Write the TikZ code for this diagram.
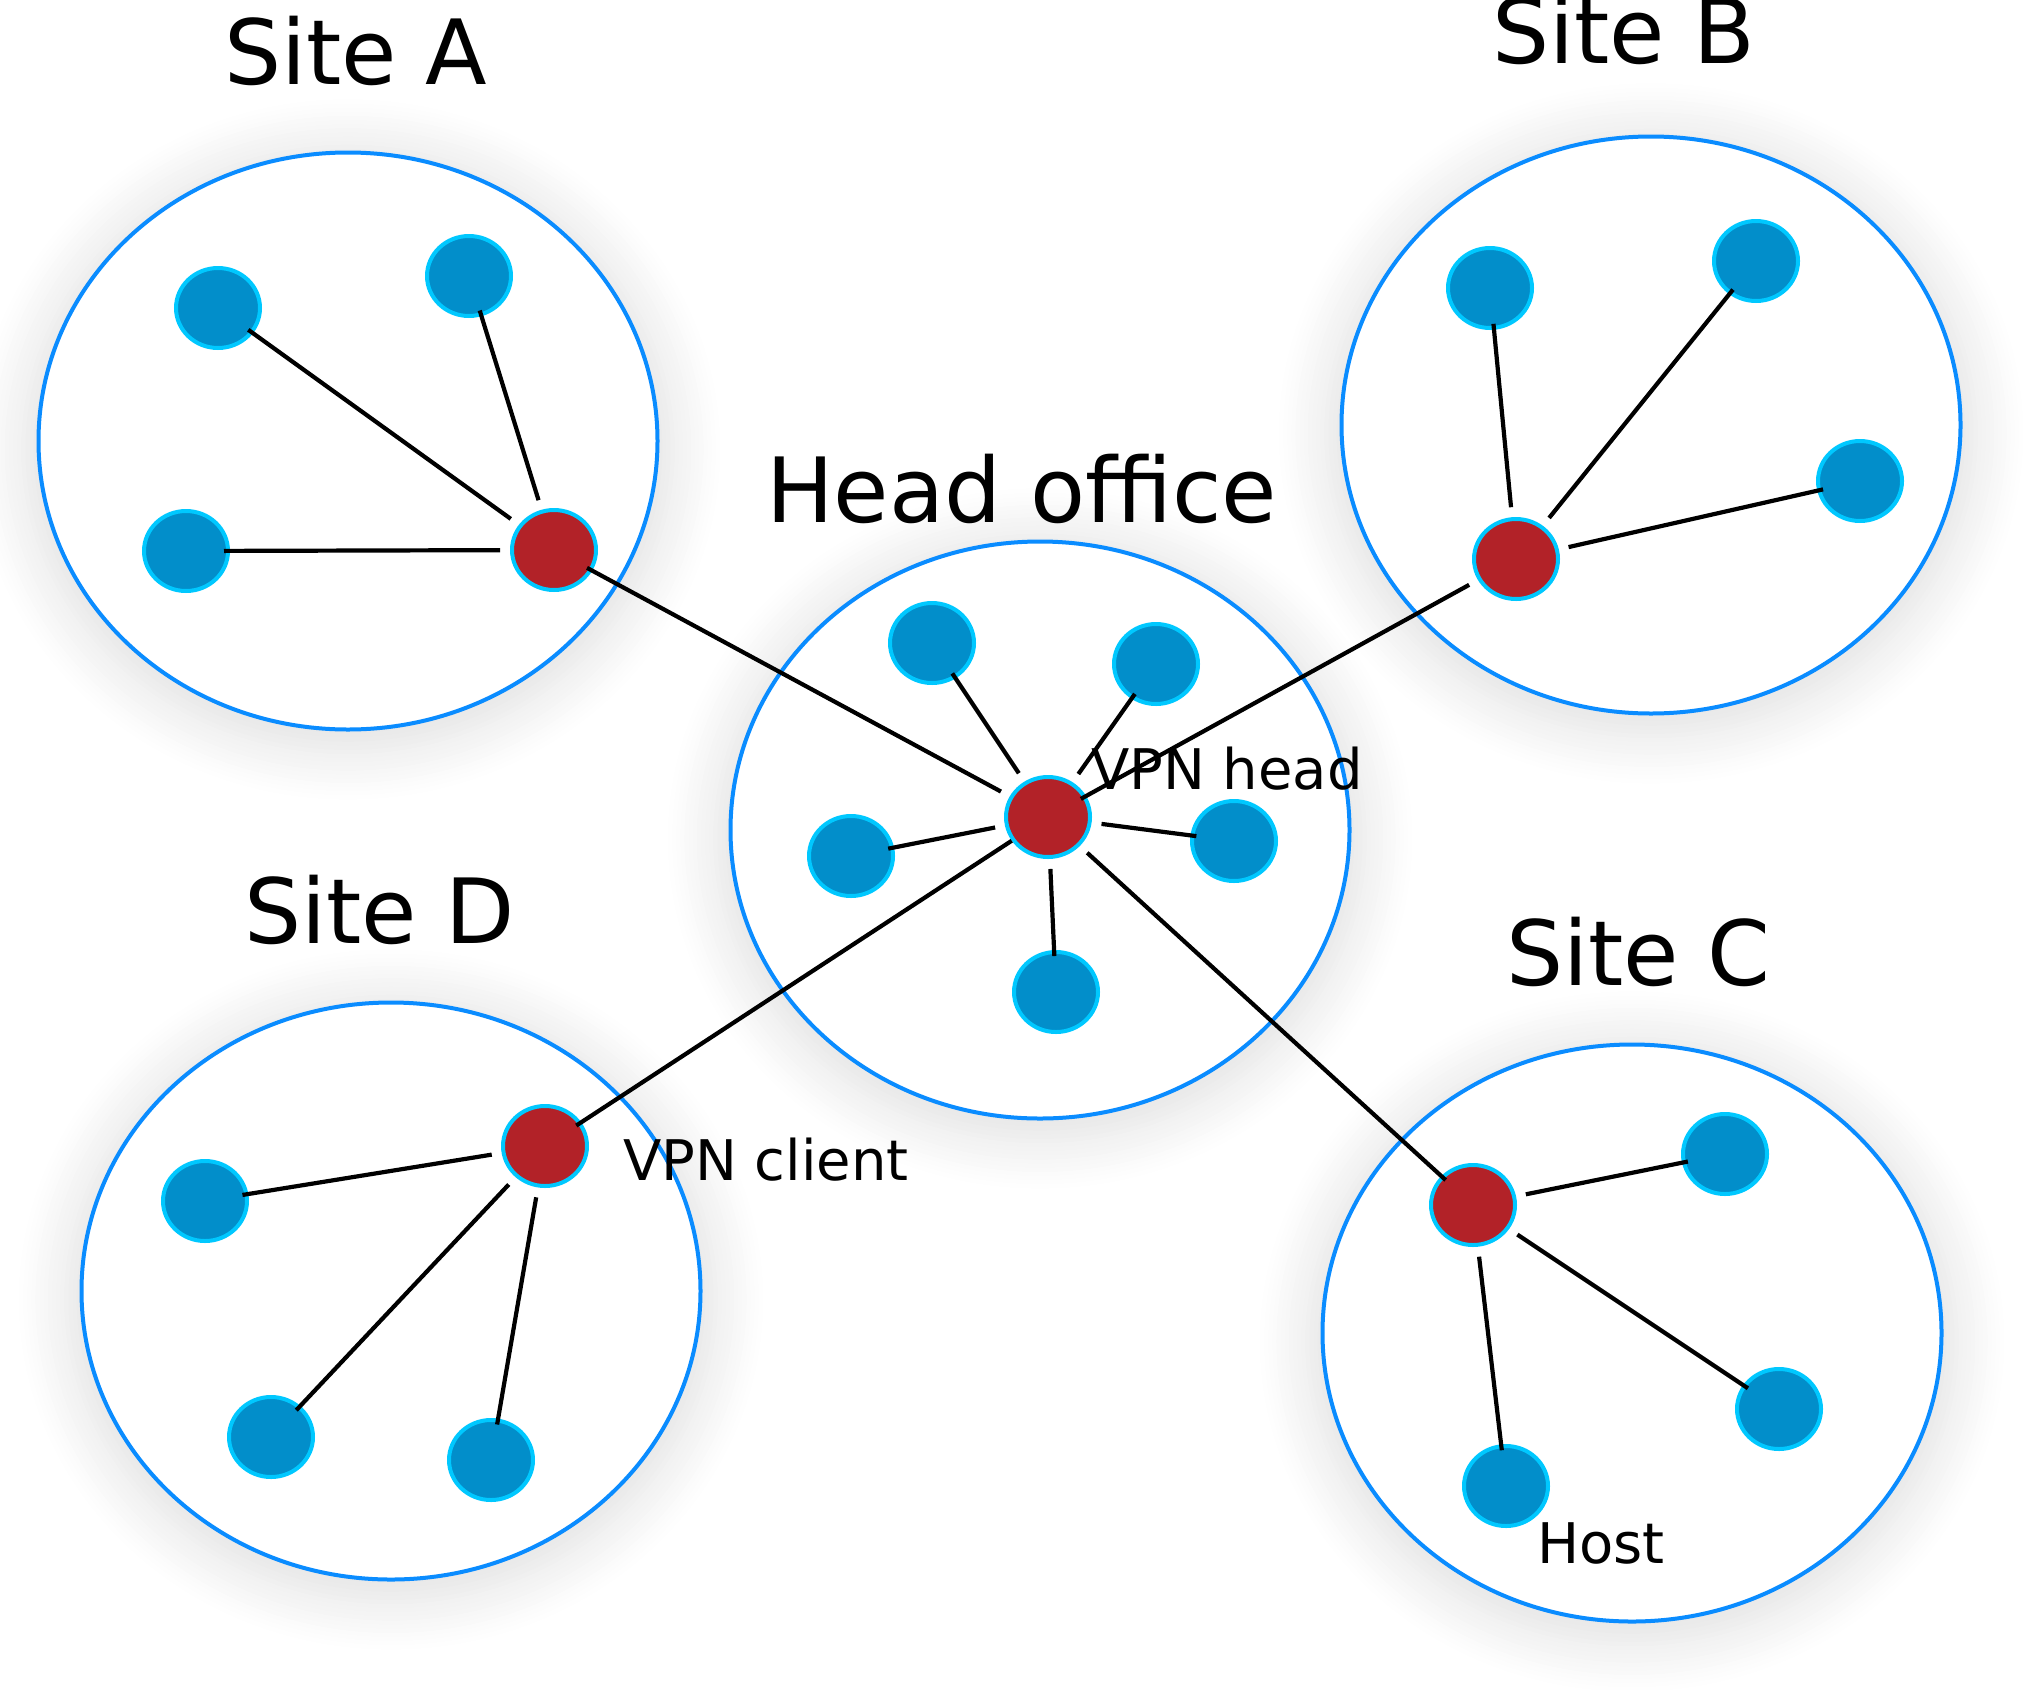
\documentclass[tikz,border=0pt]{standalone}
\usepackage{fontspec}
\setmainfont{DejaVu Sans}
\usetikzlibrary{shapes.geometric,shadows.blur}
\definecolor{hostfill}{RGB}{2,142,202}
\definecolor{hostline}{RGB}{0,200,255}
\definecolor{vpnfill}{RGB}{178,34,40}
\definecolor{siteline}{RGB}{10,140,255}
\tikzset{
  sitebox/.style={ellipse, draw=siteline, line width=4pt, fill=white,
    minimum width=619pt, minimum height=577pt, inner sep=0pt,
    blur shadow={shadow xshift=0pt, shadow yshift=-8pt, shadow blur radius=45pt,
      shadow blur steps=12, shadow opacity=12, shadow scale=1.05}},
  host/.style={ellipse, draw=hostline, fill=hostfill, line width=4pt,
    minimum width=84pt, minimum height=80pt, inner sep=0pt},
  vpn/.style={host, fill=vpnfill},
  link/.style={line width=4.2pt, black},
  tohub/.style={link, shorten >=10pt},
  biglabel/.style={anchor=base west, inner sep=0pt, font=\fontsize{90}{100}\selectfont},
  smalllabel/.style={anchor=base west, inner sep=0pt, font=\fontsize{56}{66}\selectfont}
}
\begin{document}
\begin{tikzpicture}[x=1pt,y=-1pt]
\useasboundingbox (0,0) rectangle (2044,1689);
% site ellipses
\node[sitebox] (siteA) at (348,441) {};
\node[sitebox] (siteB) at (1651,425) {};
\node[sitebox] (siteD) at (391,1291) {};
\node[sitebox] (siteC) at (1632,1333) {};
\node[sitebox] (head) at (1040,830) {};
% labels
\node[biglabel] (labA) at (224,84) {Site A};
\node[biglabel] (labB) at (1492,63) {Site B};
\node[biglabel] (labH) at (766,522) {Head office};
\node[biglabel] (labD) at (244,943) {Site D};
\node[biglabel] (labC) at (1506,985) {Site C};
\node[smalllabel] (labVH) at (1091,789) {VPN head};
\node[smalllabel] (labVC) at (623,1180) {VPN client};
\node[smalllabel] (labHost) at (1537,1563) {Host};
% Site A
\node[host] (A1) at (218,308) {};
\node[host] (A2) at (469,276) {};
\node[host] (A3) at (186,551) {};
\node[vpn] (Ar) at (554,550) {};
% Site B
\node[host] (B1) at (1490,288) {};
\node[host] (B2) at (1756,261) {};
\node[host] (B3) at (1860,481) {};
\node[vpn] (Br) at (1516,559) {};
% Head office
\node[host] (H1) at (932,643) {};
\node[host] (H2) at (1156,664) {};
\node[host] (H3) at (851,856) {};
\node[host] (H4) at (1234,841) {};
\node[host] (H5) at (1056,992) {};
\node[vpn] (Hr) at (1048,817) {};
% Site D
\node[host] (D1) at (205,1201) {};
\node[host] (D2) at (271,1437) {};
\node[host] (D3) at (491,1460) {};
\node[vpn] (Dr) at (545,1146) {};
% Site C
\node[host] (C1) at (1725,1154) {};
\node[host] (C2) at (1779,1409) {};
\node[host] (C3) at (1506,1486) {};
\node[vpn] (Cr) at (1473,1205) {};
% links
\foreach \n in {A1,A2,A3} \draw[tohub, shorten <=-6pt] (\n) -- (Ar);
\foreach \n in {B1,B2,B3} \draw[tohub, shorten <=-6pt] (\n) -- (Br);
\foreach \n in {H1,H2,H3,H4,H5} \draw[tohub, shorten <=-6pt] (\n) -- (Hr);
\foreach \n in {D1,D2,D3} \draw[tohub, shorten <=-6pt] (\n) -- (Dr);
\foreach \n in {C1,C2,C3} \draw[tohub, shorten <=-6pt] (\n) -- (Cr);
\draw[tohub, shorten <=-6pt] (Ar) -- (Hr);
\draw[link, shorten <=10pt, shorten >=-6pt] (Br) -- (Hr);
\draw[link, shorten <=-6pt] (Dr) -- (Hr);
\draw[link, shorten <=10pt, shorten >=-6pt] (Hr) -- (Cr);
\end{tikzpicture}
\end{document}
